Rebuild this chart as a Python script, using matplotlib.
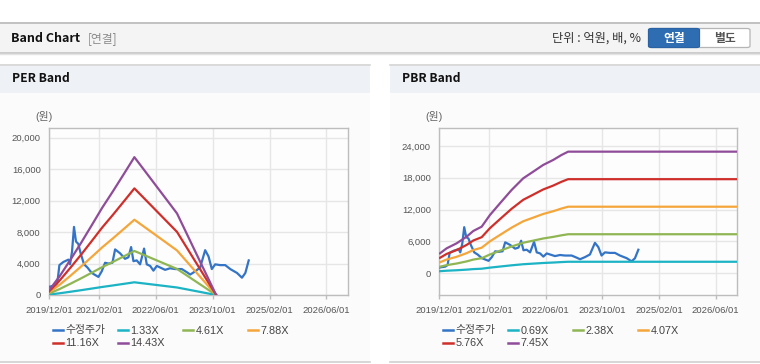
import matplotlib
matplotlib.use("Agg")
import matplotlib.pyplot as plt
import matplotlib.dates as mdates
from matplotlib.patches import Rectangle, FancyBboxPatch
from matplotlib.lines import Line2D
from matplotlib.ticker import FuncFormatter, FixedLocator
import numpy as np
import pandas as pd

plt.rcParams['font.family'] = ['Liberation Sans', 'Noto Sans CJK KR', 'DejaVu Sans']

# ---------------- data ----------------
price_dates = ['2019-12-04', '2020-01-21', '2020-02-10', '2020-02-28', '2020-04-02', '2020-05-15',
               '2020-05-29', '2020-06-15', '2020-07-02', '2020-07-19', '2020-08-08', '2020-08-28',
               '2020-09-26', '2020-10-25', '2020-12-01', '2021-01-27', '2021-02-24', '2021-03-25',
               '2021-04-23', '2021-05-27', '2021-06-19', '2021-08-01', '2021-09-12', '2021-10-11',
               '2021-11-03', '2021-11-23', '2021-12-21', '2022-01-19', '2022-02-22', '2022-03-17',
               '2022-04-15', '2022-05-13', '2022-06-11', '2022-07-09', '2022-08-21', '2022-10-03',
               '2022-11-15', '2023-01-11', '2023-02-23', '2023-03-24', '2023-05-05', '2023-06-17',
               '2023-07-30', '2023-08-28', '2023-09-25', '2023-10-24', '2023-12-06', '2024-01-18',
               '2024-03-01', '2024-04-28', '2024-06-09', '2024-07-08', '2024-08-06']
price_values = [1050, 1200, 1500, 3800, 4200, 4500,
                3900, 5500, 8660, 6800, 6500, 5300,
                3900, 3500, 2800, 2300, 3000, 4100,
                4000, 4100, 5800, 5300, 4600, 4800,
                6100, 4300, 4400, 3900, 5900, 3900,
                3700, 3100, 3700, 3500, 3200, 3400,
                3300, 3300, 2900, 2600, 3000, 3500,
                5700, 4900, 3300, 3900, 3800, 3800,
                3300, 2800, 2200, 2800, 4400]

eps_dates = ['2019-12-01', '2020-03-01', '2020-06-01', '2020-09-01', '2020-12-01', '2021-03-01',
             '2021-06-01', '2021-09-01', '2021-12-01', '2022-03-01', '2022-06-01', '2022-09-01',
             '2022-12-01', '2023-03-01', '2023-06-01', '2023-09-01', '2023-11-01']
eps_values = [40, 165, 310, 460, 615, 770, 915, 1065, 1215, 1093, 968, 843,
              719, 526, 328, 131, 0]
per_multiples = [1.33, 4.61, 7.88, 11.16, 14.43]
per_labels = ['수정주가', '1.33X', '4.61X', '7.88X', '11.16X', '14.43X']

bps_dates = ['2019-12-07', '2020-02-02', '2020-04-28', '2020-07-23', '2020-09-18', '2020-11-29',
             '2021-02-08', '2021-05-05', '2021-08-13', '2021-11-21', '2022-02-15', '2022-05-11',
             '2022-08-05', '2022-10-16', '2022-12-12', '2026-12-04']
bps_values = [499, 626, 753, 922, 1066, 1175, 1471, 1767, 2106, 2402, 2571, 2740,
              2867, 2994, 3078, 3078]
pbr_multiples = [0.69, 2.38, 4.07, 5.76, 7.45]
pbr_labels = ['수정주가', '0.69X', '2.38X', '4.07X', '5.76X', '7.45X']

tick_dates = ['2019-12-01', '2021-02-01', '2022-06-01', '2023-10-01', '2025-02-01', '2026-06-01']
tick_labels = ['2019/12/01', '2021/02/01', '2022/06/01', '2023/10/01', '2025/02/01', '2026/06/01']
per_yticks = [0, 4000, 8000, 12000, 16000, 20000]
pbr_yticks = [0, 6000, 12000, 18000, 24000]

colors = ['#3374c6', '#1cb3c4', '#8fb653', '#f4a63a', '#cf2f2b', '#8f4c99']

# ---------------- figure ----------------
W, H = 760, 364
fig = plt.figure(figsize=(W / 100, H / 100), dpi=100)
fig.patch.set_facecolor('white')


def rect(x0, y0, x1, y1, **kw):
    r = Rectangle((x0 / W, 1 - y1 / H), (x1 - x0) / W, (y1 - y0) / H,
                  transform=fig.transFigure, **kw)
    fig.add_artist(r)
    return r


def hline(x0, x1, y, color, lw=1.0):
    fig.add_artist(Line2D([x0 / W, x1 / W], [1 - y / H, 1 - y / H],
                          transform=fig.transFigure, color=color, lw=lw))


def text(x, y, s, **kw):
    fig.text(x / W, 1 - y / H, s, **kw)


# header bar
rect(0, 22, W, 53, facecolor='#f4f4f4', edgecolor='none', zorder=0)
hline(0, W, 22.5, '#b9b9b9', 1.2)
hline(0, W, 52.5, '#c4c4c4', 1.2)
hline(0, W, 53.6, '#e4e4e4', 1.0)
text(11, 38.5, 'Band Chart', fontsize=9, fontweight='bold', color='#111111',
     family=['Noto Sans CJK KR'], va='center', ha='left')
text(88, 38.5, '[연결]', fontsize=8.5, color='#8a8a8a',
     family=['Noto Sans CJK KR'], va='center', ha='left')
text(641, 38.5, '단위 : 억원, 배, %', fontsize=8.8, color='#333333',
     family=['Noto Sans CJK KR'], va='center', ha='right')
# buttons
btn2 = FancyBboxPatch((649 / W, 1 - 47.5 / H), (750 - 649) / W, 19 / H,
                      boxstyle='round,pad=0,rounding_size=0.004', transform=fig.transFigure,
                      facecolor='white', edgecolor='#b5b5b5', lw=0.9)
fig.add_artist(btn2)
btn1 = FancyBboxPatch((648.5 / W, 1 - 47.5 / H), (699.5 - 648.5) / W, 19 / H,
                      boxstyle='round,pad=0,rounding_size=0.004', transform=fig.transFigure,
                      facecolor='#2f6db3', edgecolor='#2a63a3', lw=0.9)
fig.add_artist(btn1)
text(674, 38.3, '연결', fontsize=8.5, fontweight='bold', color='white',
     family=['Noto Sans CJK KR'], va='center', ha='center')
text(725, 38.3, '별도', fontsize=8.5, fontweight='bold', color='#555555',
     family=['Noto Sans CJK KR'], va='center', ha='center')

# panels
for (px0, px1, title) in [(0, 370, 'PER Band'), (390, 760, 'PBR Band')]:
    rect(px0, 64, px1, 93, facecolor='#eef1f6', edgecolor='none', zorder=0)
    rect(px0, 93, px1, 362, facecolor='#fbfbfb', edgecolor='none', zorder=0)
    hline(px0, px1, 64.5, '#d6d6d6', 1.2)
    hline(px0, px1, 361.8, '#d0d0d0', 1.2)
    text(px0 + 11.5, 79, title, fontsize=8.7, fontweight='bold', color='#111111',
         family=['Noto Sans CJK KR'], va='center', ha='left')

xlim = (pd.Timestamp('2019-12-01'), pd.Timestamp('2026-12-04'))


def setup_axes(ax, yticks, ylim):
    ax.set_facecolor('#fdfdfd')
    ax.set_xlim(xlim)
    ax.set_ylim(ylim)
    ax.xaxis.set_major_locator(FixedLocator(mdates.date2num(pd.to_datetime(tick_dates))))
    ax.set_xticklabels(tick_labels)
    ax.set_yticks(yticks)
    ax.yaxis.set_major_formatter(FuncFormatter(lambda v, p: f'{int(v):,}'))
    ax.grid(True, color='#e6e6e6', lw=1.0)
    ax.set_axisbelow(True)
    for s in ax.spines.values():
        s.set_color('#bdbdbd')
        s.set_linewidth(1.0)
    ax.tick_params(axis='x', length=3, width=1, color='#bdbdbd', labelsize=6.8,
                   labelcolor='#555555', pad=5)
    ax.tick_params(axis='y', length=0, labelsize=6.8, labelcolor='#555555', pad=6)


def draw(ax, mults, base_dates, base_vals):
    ax.plot(pd.to_datetime(price_dates), price_values, color=colors[0], lw=1.6, zorder=3)
    bd = pd.to_datetime(base_dates)
    bv = np.array(base_vals, dtype=float)
    for i, m in enumerate(mults):
        ax.plot(bd, bv * m, color=colors[i + 1], lw=1.6, zorder=3)


def legend(x0, labels):
    pos = [(x0, 330), (x0 + 65, 330), (x0 + 130, 330), (x0 + 195, 330),
           (x0, 343), (x0 + 65, 343)]
    for i, lab in enumerate(labels):
        lx, ly = pos[i]
        fig.add_artist(Line2D([lx / W, (lx + 10) / W], [1 - ly / H, 1 - ly / H],
                              transform=fig.transFigure, color=colors[i], lw=1.8))
        text(lx + 12.5, ly + 0.5, lab, fontsize=7.8, color='#444444', va='center', ha='left')


# PER axes
ax1 = fig.add_axes([49 / W, 1 - 295 / H, (348 - 49) / W, (295 - 128) / H])
setup_axes(ax1, per_yticks, (0, 21240))
draw(ax1, per_multiples, eps_dates, eps_values)
text(44, 117, '(원)', fontsize=7.8, color='#666666', va='center', ha='center')
legend(53, per_labels)

# PBR axes
ax2 = fig.add_axes([439.3 / W, 1 - 295 / H, (737.3 - 439.3) / W, (295 - 128.3) / H])
setup_axes(ax2, pbr_yticks, (-4157, 27345))
draw(ax2, pbr_multiples, bps_dates, bps_values)
text(434, 117, '(원)', fontsize=7.8, color='#666666', va='center', ha='center')
legend(443, pbr_labels)

fig.savefig('out.png', dpi=100, facecolor='white')
